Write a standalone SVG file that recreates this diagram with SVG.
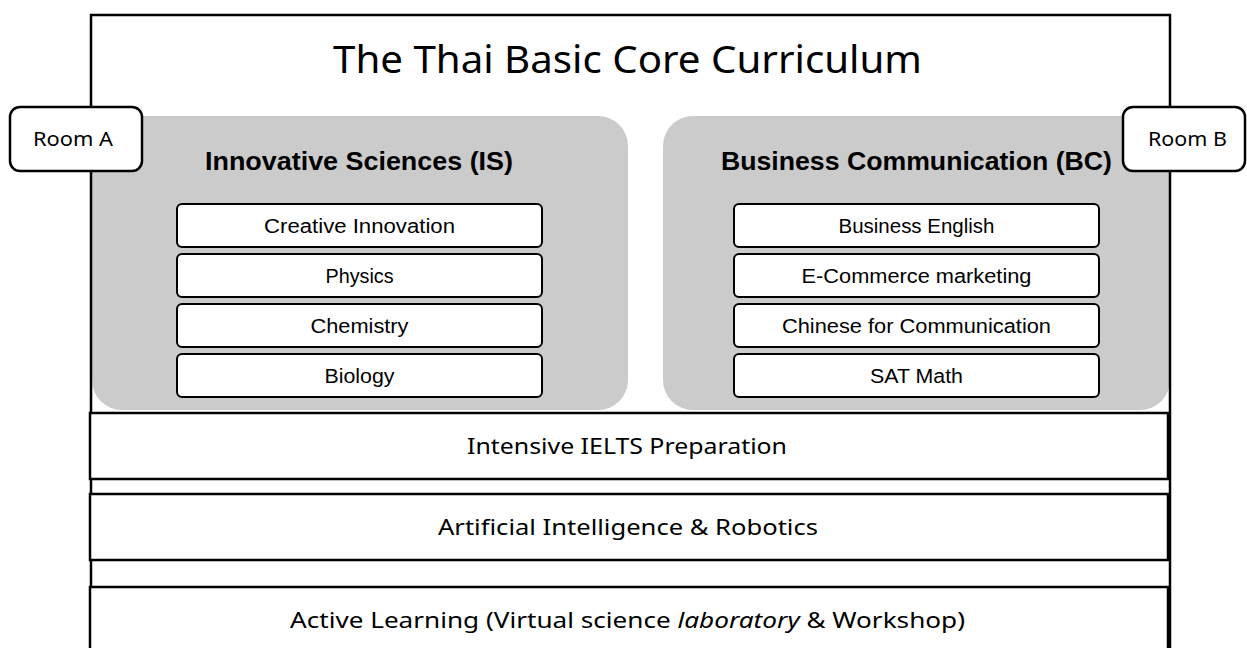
<svg xmlns="http://www.w3.org/2000/svg" width="1247" height="648" viewBox="0 0 1247 648">
  <style>
    .frame { fill: none; stroke: #000; stroke-width: 2.5; }
    .panel { fill: #cbcbcb; stroke: none; }
    .item { fill: #fff; stroke: #000; stroke-width: 2; }
    .band { fill: #fff; stroke: #000; stroke-width: 2.5; }
    .room { fill: #fff; stroke: #000; stroke-width: 2.5; }
    .title { font-family: "Noto Sans", "Open Sans", sans-serif; font-size: 38px; fill: #000; }
    .head { font-family: "Liberation Sans", Arial, sans-serif; font-weight: bold; font-size: 25px; fill: #000; }
    .itxt { font-family: "Liberation Sans", Arial, sans-serif; font-size: 20px; fill: #000; }
    .btxt { font-family: "Noto Sans", "Open Sans", sans-serif; font-size: 21px; fill: #000; }
    .rtxt { font-family: "Noto Sans", "Open Sans", sans-serif; font-size: 20px; fill: #000; }
  </style>
  <rect x="0" y="0" width="1247" height="648" fill="#fff"/>

  <g id="main-frame">
    <rect x="91" y="15" width="1079" height="700" fill="#fff" stroke="none"/>
    <text class="title" x="627.5" y="73" text-anchor="middle" textLength="589" lengthAdjust="spacingAndGlyphs">The Thai Basic Core Curriculum</text>
  </g>

  <g id="panel-is">
    <rect class="panel" x="92" y="116" width="536" height="294" rx="30"/>
    <text class="head" x="359" y="170" text-anchor="middle" textLength="308" lengthAdjust="spacingAndGlyphs">Innovative Sciences (IS)</text>
  </g>
  <g id="panel-bc">
    <rect class="panel" x="663" y="116" width="507" height="294" rx="30"/>
    <text class="head" x="916.5" y="170" text-anchor="middle" textLength="391" lengthAdjust="spacingAndGlyphs">Business Communication (BC)</text>
  </g>

  <g id="is-creative">
    <rect class="item" x="177" y="204" width="365" height="43" rx="5"/>
    <text class="itxt" x="359.5" y="233" text-anchor="middle" textLength="191" lengthAdjust="spacingAndGlyphs">Creative Innovation</text>
  </g>
  <g id="is-physics">
    <rect class="item" x="177" y="254" width="365" height="43" rx="5"/>
    <text class="itxt" x="359.5" y="283" text-anchor="middle" textLength="68" lengthAdjust="spacingAndGlyphs">Physics</text>
  </g>
  <g id="is-chemistry">
    <rect class="item" x="177" y="304" width="365" height="43" rx="5"/>
    <text class="itxt" x="359.5" y="333" text-anchor="middle" textLength="98" lengthAdjust="spacingAndGlyphs">Chemistry</text>
  </g>
  <g id="is-biology">
    <rect class="item" x="177" y="354" width="365" height="43" rx="5"/>
    <text class="itxt" x="359.5" y="383" text-anchor="middle" textLength="70" lengthAdjust="spacingAndGlyphs">Biology</text>
  </g>

  <g id="bc-english">
    <rect class="item" x="734" y="204" width="365" height="43" rx="5"/>
    <text class="itxt" x="916.5" y="233" text-anchor="middle" textLength="156" lengthAdjust="spacingAndGlyphs">Business English</text>
  </g>
  <g id="bc-ecommerce">
    <rect class="item" x="734" y="254" width="365" height="43" rx="5"/>
    <text class="itxt" x="916.5" y="283" text-anchor="middle" textLength="230" lengthAdjust="spacingAndGlyphs">E-Commerce marketing</text>
  </g>
  <g id="bc-chinese">
    <rect class="item" x="734" y="304" width="365" height="43" rx="5"/>
    <text class="itxt" x="916.5" y="333" text-anchor="middle" textLength="269" lengthAdjust="spacingAndGlyphs">Chinese for Communication</text>
  </g>
  <g id="bc-sat">
    <rect class="item" x="734" y="354" width="365" height="43" rx="5"/>
    <text class="itxt" x="916.5" y="383" text-anchor="middle" textLength="93" lengthAdjust="spacingAndGlyphs">SAT Math</text>
  </g>

  <g id="frame-outline">
    <rect class="frame" x="91" y="15" width="1079" height="700"/>
  </g>

  <g id="band-ielts">
    <rect class="band" x="90" y="413" width="1078" height="66"/>
    <text class="btxt" x="627" y="454" text-anchor="middle" textLength="320" lengthAdjust="spacingAndGlyphs">Intensive IELTS Preparation</text>
  </g>
  <g id="band-ai">
    <rect class="band" x="90" y="494" width="1078" height="66"/>
    <text class="btxt" x="628" y="535" text-anchor="middle" textLength="380" lengthAdjust="spacingAndGlyphs">Artificial Intelligence &amp; Robotics</text>
  </g>
  <g id="band-active">
    <rect class="band" x="90" y="587" width="1078" height="80"/>
    <text class="btxt" x="627.5" y="628" text-anchor="middle" textLength="675" lengthAdjust="spacingAndGlyphs">Active Learning (Virtual science <tspan font-style="italic">laboratory</tspan> &amp; Workshop)</text>
  </g>

  <g id="room-a">
    <rect class="room" x="10" y="107" width="132" height="64" rx="10"/>
    <text class="rtxt" x="73" y="146" text-anchor="middle" textLength="80" lengthAdjust="spacingAndGlyphs">Room A</text>
  </g>
  <g id="room-b">
    <rect class="room" x="1123" y="107" width="122" height="64" rx="10"/>
    <text class="rtxt" x="1187.5" y="146" text-anchor="middle" textLength="79" lengthAdjust="spacingAndGlyphs">Room B</text>
  </g>

  <g id="connectors"/>
</svg>
